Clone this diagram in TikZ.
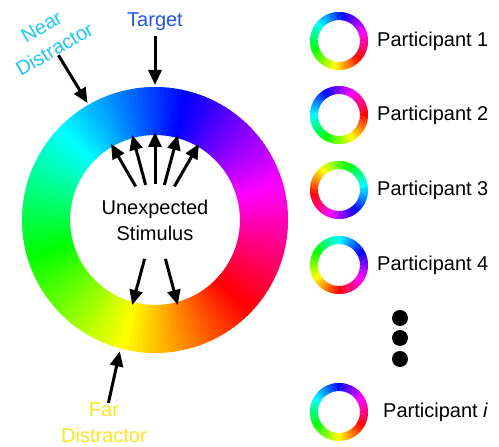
\documentclass[tikz,border=0pt]{standalone}
\usepackage{fontspec}
\setmainfont{Liberation Sans}
\usepackage{xcolor}
\usetikzlibrary{arrows.meta, positioning, calc}
\definecolor{targetblue}{RGB}{35,85,235}
\definecolor{nearcyan}{RGB}{30,200,245}
\definecolor{faryellow}{RGB}{250,230,30}

% hue ring: x, y, inner radius, outer radius, hue at angle 0
\newcommand\huering[5]{%
  \foreach \a in {0,2,...,358}{
    \pgfmathsetmacro\ringhue{mod(#5-\a-1+720,360)}
    \definecolor{ringcol}{Hsb}{\ringhue,1,1}
    \fill[ringcol, shift={(#1pt,#2pt)}] (\a:#4pt) arc[start angle=\a, end angle=\a+2.6, radius=#4pt]
      -- (\a+2.6:#3pt) arc[start angle=\a+2.6, end angle=\a, radius=#3pt] -- cycle;
  }}

\begin{document}
\begin{tikzpicture}[
  x=1pt, y=1pt,
  lbl/.style={font=\fontsize{20}{26}\selectfont, align=center, inner sep=0pt},
  plabel/.style={font=\fontsize{20}{26}\selectfont, inner sep=0pt},
  arr/.style={-{Triangle[length=15pt,width=13pt]}, line width=3pt},
  dot/.style={circle, fill=black, minimum size=16pt, inner sep=0pt},
]
  \useasboundingbox (0,0) rectangle (499,447);

  \coordinate (c) at (155,227);
  \huering{155}{227}{85}{133}{316}

  \node[lbl] (stim) at (c) {Unexpected\\Stimulus};
  \node[lbl, text=targetblue] (target) at (155,425.5) {Target};
  \node[lbl, text=nearcyan, rotate=30] (near) at (48,409) {Near\\Distractor};
  \node[lbl, text=faryellow] (far) at (104,24) {Far\\Distractor};

  \coordinate (tgtip) at ($(c)+(90:135pt)$);
  \coordinate (nrtip) at ($(c)+(120:135pt)$);
  \coordinate (frtip) at ($(c)+(255:136pt)$);
  \draw[arr, shorten <=5pt] (target) -- (tgtip);
  \draw[arr] (near) -- (nrtip);
  \draw[arr] (far) -- (frtip);

  \foreach \a [count=\i] in {120,105,90,75,60}{
    \coordinate (up\i) at ($(c)+(\a:88pt)$);
    \draw[arr, shorten <=15pt] (stim) -- (up\i);
  }
  \foreach \a [count=\i] in {255,285}{
    \coordinate (dn\i) at ($(c)+(\a:88pt)$);
    \draw[arr, shorten <=19pt] (stim) -- (dn\i);
  }

  \foreach \y/\o [count=\i] in {406/320, 332/360, 257/190, 182/270, 35/330}{
    \coordinate (r\i) at (339,\y);
    \huering{339}{\y}{21}{29}{\o}
  }
  \node[plabel, right=38pt of r1] (p1) {Participant 1};
  \node[plabel, right=38pt of r2] (p2) {Participant 2};
  \node[plabel, right=38pt of r3] (p3) {Participant 3};
  \node[plabel, right=38pt of r4] (p4) {Participant 4};
  \node[plabel, right=44pt of r5] (p5) {Participant \textit{i}};

  \foreach \y [count=\i] in {129,109,88}
    \node[dot] (d\i) at (400,\y) {};
\end{tikzpicture}
\end{document}
